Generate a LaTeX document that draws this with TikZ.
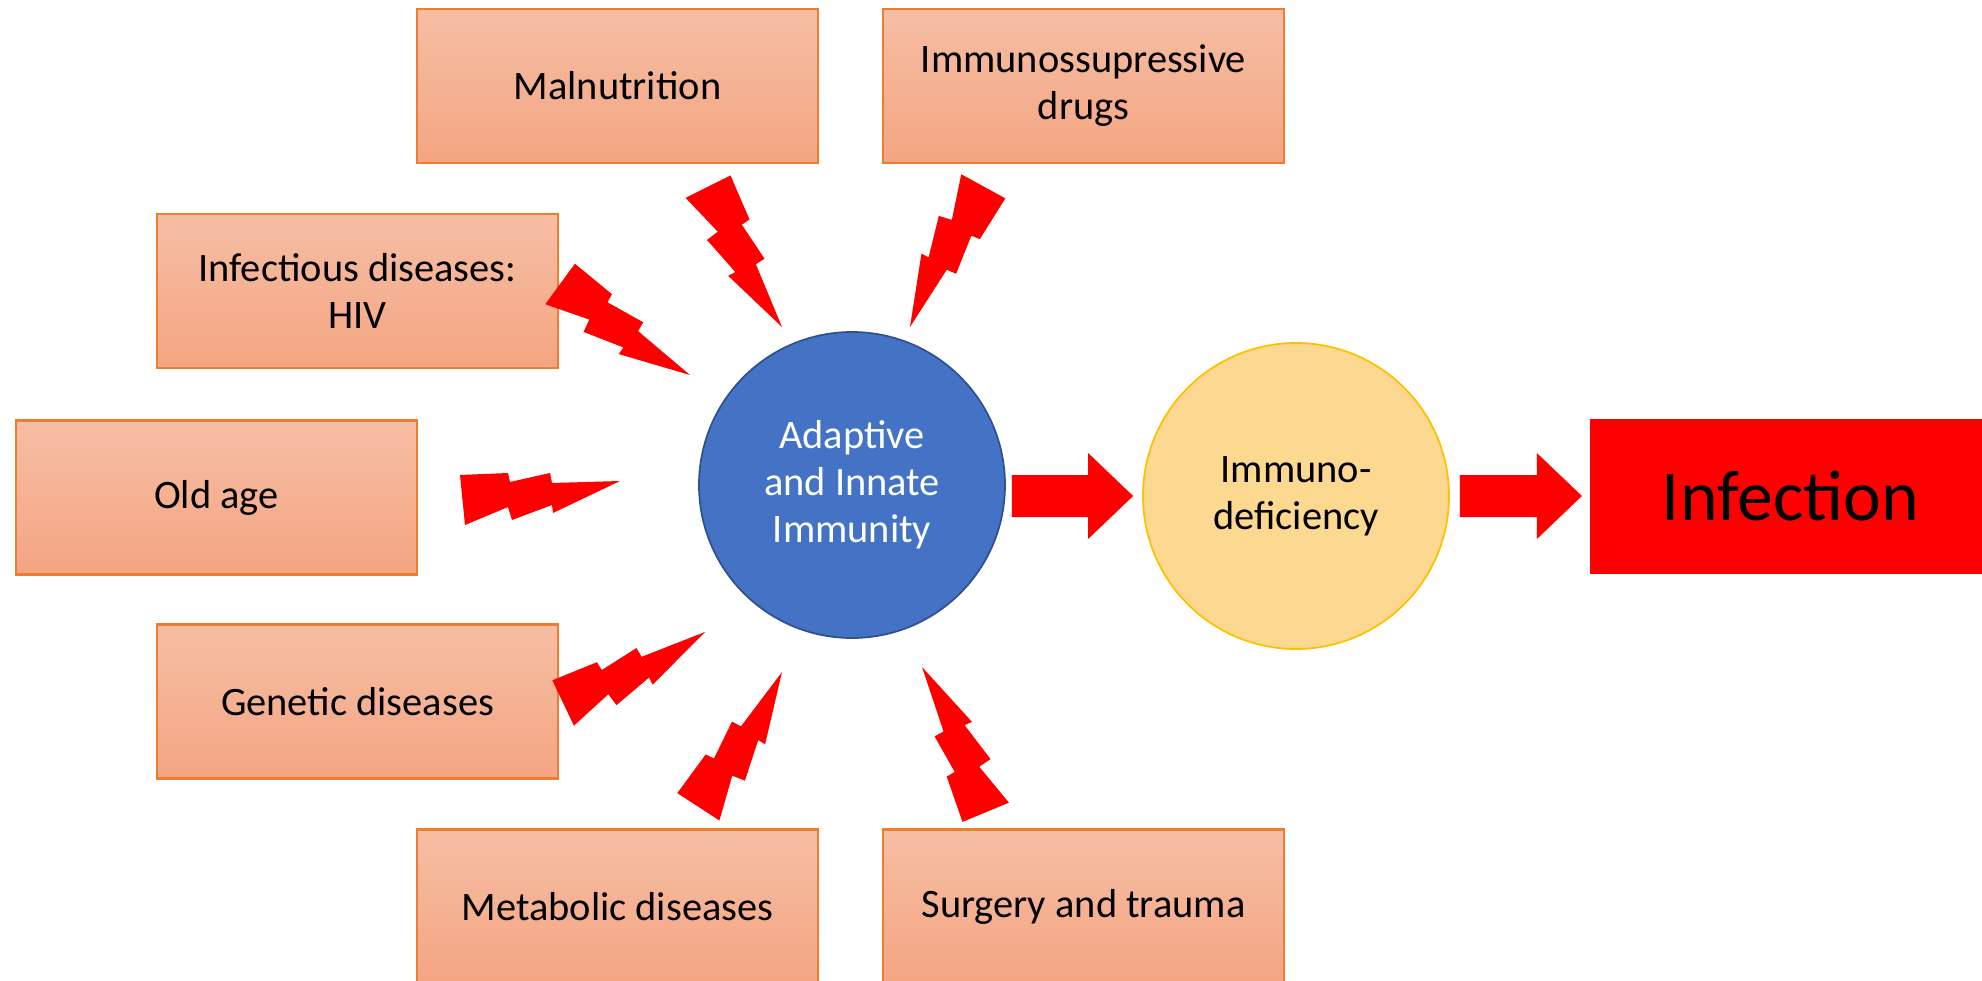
\documentclass[tikz,border=0pt]{standalone}
\usepackage{fontspec}
\setmainfont{Carlito}
\usetikzlibrary{positioning,calc}

\definecolor{boxline}{HTML}{ED7D31}
\definecolor{boxtop}{HTML}{F6BEA4}
\definecolor{boxbottom}{HTML}{F4A582}
\definecolor{immunefill}{HTML}{4472C4}
\definecolor{immuneline}{HTML}{2F528F}
\definecolor{deficfill}{HTML}{FDD891}
\definecolor{deficline}{HTML}{FFC000}
\definecolor{hitred}{HTML}{FF0000}

\tikzset{
  bolt/.pic={
    \fill[hitred] (-1.60,0.06) -- (-1.12,0.08) -- (-1.10,-0.01) -- (-0.70,0.08) -- (-0.68,-0.02) -- (0,0)
      -- (-0.67,-0.32) -- (-0.68,-0.24) -- (-1.08,-0.39) -- (-1.12,-0.26) -- (-1.55,-0.44) -- cycle;
  }
}

% fat red arrow between two coordinates on one line
\newcommand{\fatarrow}[2]{%
  \fill[hitred] ($(#1)+(0,0.21)$) -- ($(#2)+(-0.45,0.21)$) -- ($(#2)+(-0.45,0.43)$) -- (#2)
    -- ($(#2)+(-0.45,-0.43)$) -- ($(#2)+(-0.45,-0.21)$) -- ($(#1)+(0,-0.21)$) -- cycle;}

\begin{document}
\begin{tikzpicture}[
            causebox/.style={rectangle, draw=boxline, line width=0.8pt, top color=boxtop, bottom color=boxbottom,
              minimum width=4.01cm, minimum height=1.54cm, align=center, outer sep=0pt,
              font=\fontsize{11.5pt}{13.4pt}\selectfont},
            immunenode/.style={circle, draw=immuneline, fill=immunefill, line width=0.5pt, minimum size=3.06cm,
              inner sep=0pt, align=center, text=white, font=\fontsize{11.5pt}{13.4pt}\selectfont},
            deficnode/.style={circle, draw=deficline, fill=deficfill, line width=0.5pt, minimum size=3.06cm,
              inner sep=0pt, align=center, font=\fontsize{11.5pt}{13.4pt}\selectfont},
            infectnode/.style={rectangle, fill=hitred, minimum width=4.01cm, minimum height=1.55cm, outer sep=0pt,
              font=\fontsize{20.4pt}{24pt}\selectfont},
            ]
            \useasboundingbox (0,0) rectangle (19.82,-9.81);

            % Nodes
            \node[immunenode] (immunity) at (8.52,-4.85) {Adaptive\\and Innate\\Immunity};
            \node[deficnode] (deficiency) at (12.96,-4.96) {Immuno-\\deficiency};
            \node[infectnode, right=1.40cm of deficiency] (infection) {Infection};

            \node[causebox] (malnutrition) at (6.175,-0.86) {Malnutrition};
            \node[causebox, right=0.65cm of malnutrition] (drugs) {Immunossupressive\\drugs};
            \node[causebox] (hiv) at (3.575,-2.91) {Infectious diseases:\\HIV};
            \node[causebox] (oldage) at (2.165,-4.975) {Old age};
            \node[causebox] (genetic) at (3.575,-7.015) {Genetic diseases};
            \node[causebox] (metabolic) at (6.175,-9.065) {Metabolic diseases};
            \node[causebox, right=0.65cm of metabolic] (surgery) {Surgery and trauma};

            % Bolts
            \pic[rotate=-69.1] at (7.82,-3.27) {bolt};
            \pic[rotate=-124.4] at (9.10,-3.27) {bolt};
            \pic[rotate=-41.9] at (6.90,-3.75) {bolt};
            \pic at (6.20,-4.81) {bolt};
            \pic[rotate=19.7] at (7.05,-6.32) {bolt};
            \pic[rotate=51.3] at (7.82,-6.72) {bolt};
            \pic[rotate=106.8] at (9.22,-6.67) {bolt};

            % Arrows
            \path (immunity.east |- deficiency.west) ++(0.06,0) coordinate (a1);
            \path (deficiency.west) ++(-0.09,0) coordinate (a2);
            \path (deficiency.east) ++(0.10,0) coordinate (b1);
            \path (infection.west |- deficiency.east) ++(-0.08,0) coordinate (b2);
            \fatarrow{a1}{a2}
            \fatarrow{b1}{b2}
        \end{tikzpicture}
\end{document}
